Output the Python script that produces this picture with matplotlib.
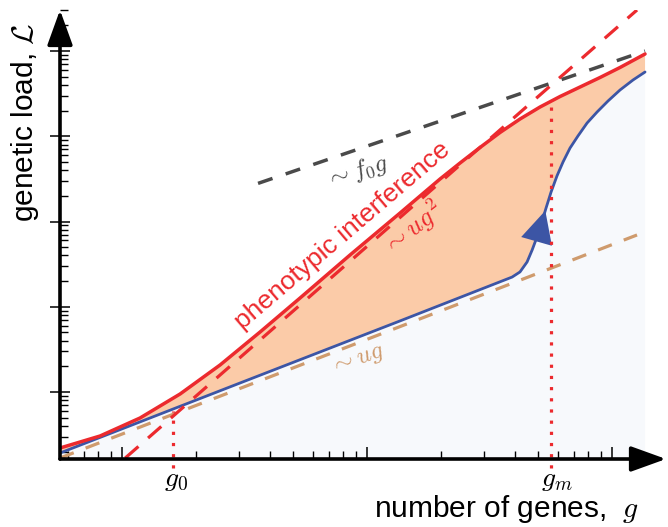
import numpy as np
import matplotlib.pyplot as plt
from matplotlib.ticker import LogLocator, NullFormatter
from matplotlib.patches import FancyArrowPatch

plt.rcParams['font.family'] = ['Liberation Sans', 'DejaVu Sans']
plt.rcParams['mathtext.fontset'] = 'cm'

# genetic load with phenotypic interference (red) and without (blue)
red_g = [5.58, 8.13, 11.84, 17.25, 25.12, 36.59, 53.28, 85.22, 136.4, 198.6,
         239.7, 289.2, 349.1, 421.2, 508.3, 613.6, 740.5, 893.4, 1078, 1364]
red_L = [0.2203, 0.3047, 0.4955, 0.9474, 2.074, 5.056, 12.66, 40.46, 125.8,
         315.1, 485.6, 738, 1107, 1593, 2203, 2926, 3782, 4888, 6406, 9223]

blue_g = [5.58, 30.3, 136, 391, 421, 450, 472, 494, 513, 538, 564, 596, 631,
          674, 726, 791, 869, 963, 1078, 1218, 1364]
blue_L = [0.1925, 1.275, 6.80, 22.3, 25.6, 33.5, 46.3, 65.8, 90.9, 144, 222,
          342, 499, 728, 1007, 1430, 1925, 2591, 3487, 4569, 5672]

# asymptotes
ug_g, ug_L = [5.58, 1265], [0.168, 69.5]
ug2_g, ug2_L = [10.3, 1265], [0.168, 30270]
f0g_g, f0g_L = [35.9, 1364], [280, 10000]

g0, g0_top = 16.1, 0.6
gm, gm_top = 564, 2661
dot_bottom = 0.128

red = '#ec2a2e'
blue = '#3c55a5'
tan = '#cf9b6d'
grey = '#4a4a4a'

fig = plt.figure(figsize=(6.68, 5.27), dpi=100)
ax = fig.add_axes([60/668, (527-459)/527, 606/668, 449/527])
ax.set_xscale('log')
ax.set_yscale('log')
ax.set_xlim(5.58, 1661)
ax.set_ylim(0.1637, 30270)

# shaded regions
ybot = ax.get_ylim()[0]
ax.fill(blue_g + [blue_g[-1], blue_g[0]], blue_L + [ybot, ybot],
        color='#f7f9fc', lw=0, zorder=0.5)
ax.fill(red_g + blue_g[::-1], red_L + blue_L[::-1],
        color='#fbcba8', lw=0, zorder=1)

ax.plot(ug_g, ug_L, color=tan, lw=2.3, dashes=(4.6, 4.0), zorder=2)
ax.plot(blue_g, blue_L, color=blue, lw=2.0, zorder=3,
        solid_capstyle='round', solid_joinstyle='round')
ax.plot(ug2_g, ug2_L, color=red, lw=2.3, dashes=(5.5, 4.0), zorder=4)
ax.plot(f0g_g, f0g_L, color=grey, lw=2.5, dashes=(4.4, 4.0), zorder=4)
ax.plot(red_g, red_L, color=red, lw=2.5, zorder=5,
        solid_capstyle='round', solid_joinstyle='round')

# direction marker on the blue curve
ax.add_patch(FancyArrowPatch((489, 55), (538, 144),
                             arrowstyle='-|>,head_length=1.0,head_width=0.5',
                             mutation_scale=23, color=blue, lw=0, zorder=6))

for gx, top in [(g0, g0_top), (gm, gm_top)]:
    ax.plot([gx, gx], [dot_bottom, top], color=red, lw=2.3,
            dashes=(1.0, 2.5), clip_on=False, zorder=6)

# axis arrows instead of spines
for s in ax.spines.values():
    s.set_visible(False)
arrow_kw = dict(arrowstyle='-|>,head_length=0.72,head_width=0.26',
                mutation_scale=30, lw=2.6, color='black',
                shrinkA=0, shrinkB=0)
ax.annotate('', xy=(1, 0), xytext=(0, 0), xycoords='axes fraction',
            arrowprops=arrow_kw, annotation_clip=False, zorder=10)
ax.annotate('', xy=(0, 1), xytext=(0, 0), xycoords='axes fraction',
            arrowprops=arrow_kw, annotation_clip=False, zorder=10)

for axis in (ax.xaxis, ax.yaxis):
    axis.set_major_locator(LogLocator(base=10, numticks=100))
    axis.set_minor_locator(LogLocator(base=10, subs=np.arange(2, 10), numticks=100))
    axis.set_major_formatter(NullFormatter())
    axis.set_minor_formatter(NullFormatter())
ax.tick_params(axis='y', which='major', direction='inout', length=14, width=1.1)
ax.tick_params(axis='y', which='minor', direction='in', length=6, width=1.0)
ax.tick_params(axis='x', which='major', direction='in', length=9, width=1.1)
ax.tick_params(axis='x', which='minor', direction='in', length=6, width=1.0)

# annotations
ax.text(79.1, 67.6, 'phenotypic interference', color=red, fontsize=19,
        rotation=40.5, ha='center', va='center', rotation_mode='anchor')
ax.text(153, 83.9, r'$\sim ug^2$', color=red, fontsize=19, rotation=38,
        ha='center', va='center', rotation_mode='anchor')
ax.text(91.0, 381, r'$\sim f_0 g$', color=grey, fontsize=18, rotation=17,
        ha='center', va='center', rotation_mode='anchor')
ax.text(91.0, 2.37, r'$\sim ug$', color=tan, fontsize=18, rotation=20,
        ha='center', va='center', rotation_mode='anchor')

tr = ax.get_xaxis_transform()
ax.text(16.6, -0.047, r'$g_0$', fontsize=20, ha='center', va='center',
        transform=tr)
ax.text(597, -0.047, r'$g_m$', fontsize=20, ha='center', va='center',
        transform=tr)

fig.text(0.758, 0.034, r'number of genes, $\;g$', fontsize=21.5,
         ha='center', va='center')
fig.text(0.037, 0.768, r'genetic load, $\mathcal{L}$', fontsize=21.5,
         ha='center', va='center', rotation=90)

fig.savefig('out.png', dpi=100)
